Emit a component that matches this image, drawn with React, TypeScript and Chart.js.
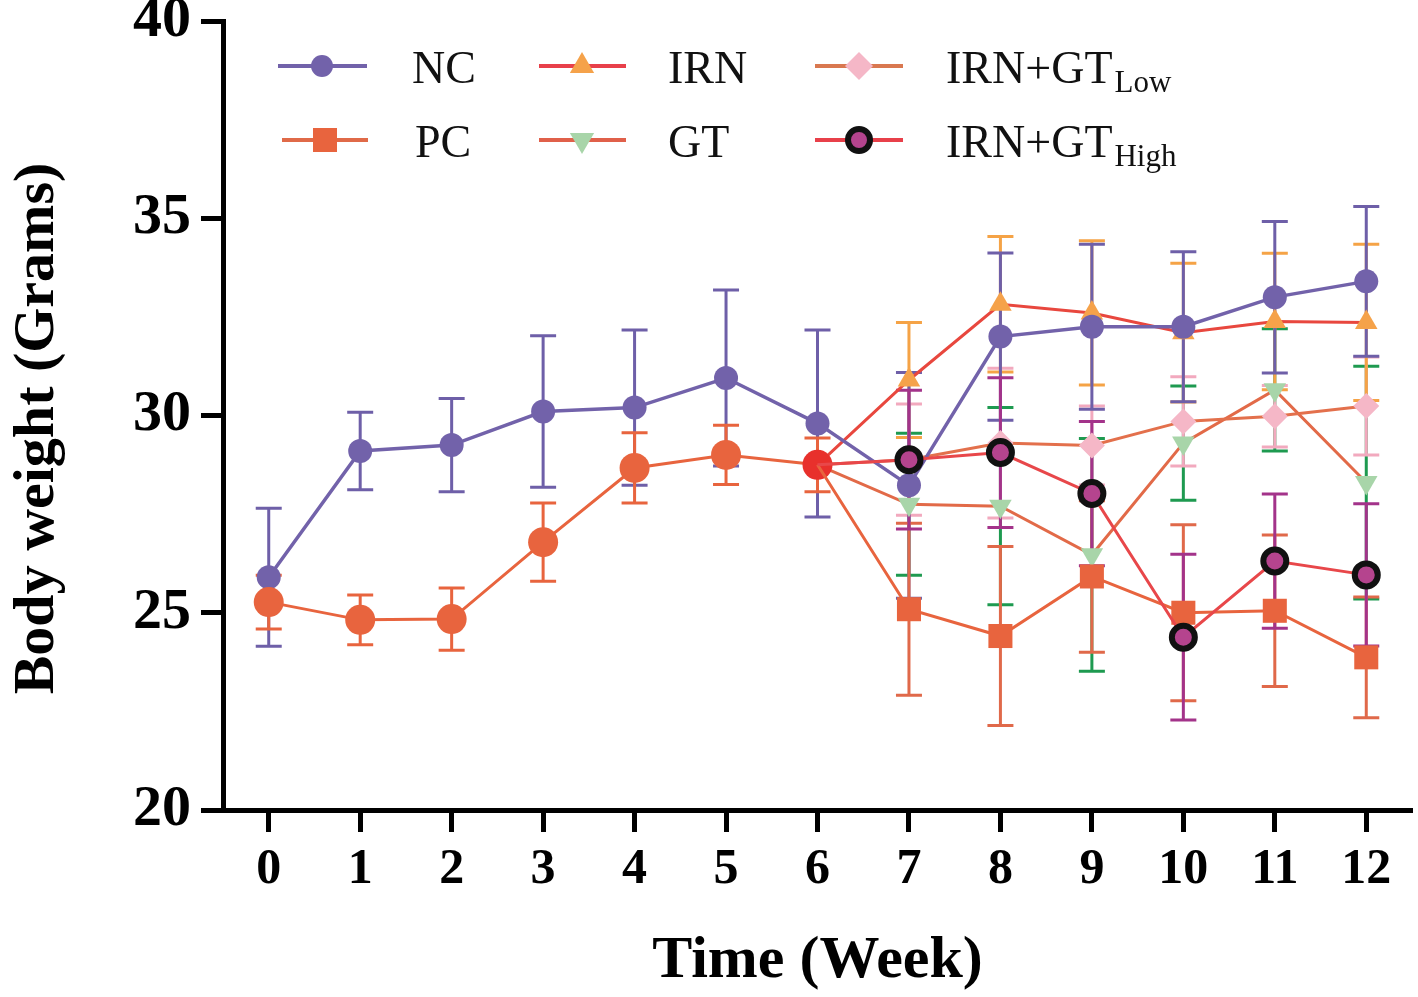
import React, { useEffect, useRef } from 'react';
import { Chart, registerables } from 'chart.js';
import { drawPoint } from 'chart.js/helpers';

Chart.register(...registerables);

const FONT = "'Liberation Serif', 'Times New Roman', serif";

// ---- data ----
const weeks = [0, 1, 2, 3, 4, 5, 6, 7, 8, 9, 10, 11, 12];
const yTicks = [20, 25, 30, 35, 40];

const ncMean = [25.9, 29.1, 29.25, 30.1, 30.2, 30.95, 29.8, 28.23, 32.0, 32.25, 32.25, 33.0, 33.4];
const ncSd = [1.75, 0.98, 1.18, 1.92, 1.97, 2.23, 2.37, 2.86, 2.12, 2.09, 1.9, 1.92, 1.9];

const preWeeks = [0, 1, 2, 3, 4, 5, 6];
const preMean = [25.27, 24.82, 24.84, 26.79, 28.67, 29.0, 28.75];
const preSd = [0.68, 0.63, 0.79, 0.99, 0.89, 0.75, 0.68];

const treatWeeks = [6, 7, 8, 9, 10, 11, 12];
const pcMean = [28.75, 25.09, 24.41, 25.92, 25.0, 25.05, 23.87];
const pcSd = [0, 2.18, 2.27, 1.92, 2.23, 1.92, 1.53];
const irnMean = [28.75, 30.9, 32.82, 32.6, 32.1, 32.38, 32.36];
const irnSd = [0, 1.46, 1.72, 1.83, 1.76, 1.73, 1.98];
const gtMean = [28.75, 27.75, 27.7, 26.47, 29.3, 30.65, 28.3];
const gtSd = [0, 1.8, 2.5, 2.95, 1.45, 1.55, 2.95];
const lowMean = [28.75, 28.88, 29.3, 29.24, 29.85, 29.98, 30.24];
const lowSd = [0, 1.41, 1.9, 1.0, 1.13, 0.78, 1.24];
const highMean = [28.75, 28.88, 29.06, 28.02, 24.38, 26.31, 25.96];
const highSd = [0, 1.76, 1.9, 1.83, 2.1, 1.7, 1.8];

const yTitle = 'Body weight (Grams)';
const xTitle = 'Time (Week)';

const pts = (xs: number[], ys: number[]) => xs.map((x, i) => ({ x, y: ys[i] }));
const treatRadius = (r: number) => treatWeeks.map((w) => (w === 6 ? 0 : r));

const errorBarPlugin = {
  id: 'errorBars',
  beforeDatasetsDraw(chart: any) {
    const ctx = chart.ctx;
    const ys = chart.scales.y;
    const n = chart.data.datasets.length;
    for (let i = n - 1; i >= 0; i--) {
      const ds: any = chart.data.datasets[i];
      if (!ds.errors) continue;
      const meta = chart.getDatasetMeta(i);
      ctx.save();
      ctx.strokeStyle = ds.errorColor;
      ctx.lineWidth = 3;
      meta.data.forEach((el: any, j: number) => {
        const sd = ds.errors[j];
        if (!sd) return;
        const v = ds.data[j].y;
        const x = el.x;
        const top = ys.getPixelForValue(v + sd);
        const bot = ys.getPixelForValue(v - sd);
        ctx.beginPath();
        ctx.moveTo(x, top);
        ctx.lineTo(x, bot);
        ctx.moveTo(x - 13, top);
        ctx.lineTo(x + 13, top);
        ctx.moveTo(x - 13, bot);
        ctx.lineTo(x + 13, bot);
        ctx.stroke();
      });
      ctx.restore();
    }
  },
};

const yTitlePlugin = {
  id: 'yTitle',
  afterDraw(chart: any) {
    const ctx = chart.ctx;
    const area = chart.chartArea;
    ctx.save();
    ctx.translate(38, (area.top + area.bottom) / 2 + 13);
    ctx.rotate(-Math.PI / 2);
    ctx.font = `bold 58px ${FONT}`;
    ctx.fillStyle = '#000';
    ctx.textAlign = 'center';
    ctx.textBaseline = 'middle';
    ctx.fillText(yTitle, 0, 0);
    ctx.restore();
  },
};

const legendItems = [
  { label: 'NC', sub: '', x1: 278, x2: 367, mx: 322, y: 66, tx: 412, line: '#7262AA', style: 'circle', r: 11, rot: 0, fill: '#7262AA', border: '#7262AA', bw: 0 },
  { label: 'PC', sub: '', x1: 282, x2: 368, mx: 325, y: 140, tx: 415, line: '#E06A48', style: 'rect', r: 17, rot: 0, fill: '#E8643E', border: '#E8643E', bw: 0 },
  { label: 'IRN', sub: '', x1: 539, x2: 626, mx: 582, y: 66, tx: 668, line: '#E8404A', style: 'triangle', r: 14, rot: 0, fill: '#F5A24A', border: '#F5A24A', bw: 0 },
  { label: 'GT', sub: '', x1: 539, x2: 626, mx: 582, y: 140, tx: 668, line: '#E0604A', style: 'triangle', r: 14, rot: 180, fill: '#A8D5A9', border: '#A8D5A9', bw: 0 },
  { label: 'IRN+GT', sub: 'Low', x1: 815, x2: 903, mx: 859, y: 66, tx: 946, line: '#D97850', style: 'rectRot', r: 14, rot: 0, fill: '#F5B7C7', border: '#F5B7C7', bw: 0 },
  { label: 'IRN+GT', sub: 'High', x1: 815, x2: 903, mx: 859, y: 140, tx: 946, line: '#E8404A', style: 'circle', r: 11, rot: 0, fill: '#B5448E', border: '#111111', bw: 6 },
];

const legendPlugin = {
  id: 'customLegend',
  afterDraw(chart: any) {
    const ctx = chart.ctx;
    ctx.save();
    legendItems.forEach((it) => {
      ctx.strokeStyle = it.line;
      ctx.lineWidth = 4;
      ctx.beginPath();
      ctx.moveTo(it.x1, it.y);
      ctx.lineTo(it.x2, it.y);
      ctx.stroke();
      ctx.fillStyle = it.fill;
      ctx.strokeStyle = it.border;
      ctx.lineWidth = it.bw;
      drawPoint(ctx, { pointStyle: it.style as any, radius: it.r, rotation: it.rot, borderWidth: it.bw }, it.mx, it.y);
      ctx.fillStyle = '#111111';
      ctx.textAlign = 'left';
      ctx.textBaseline = 'alphabetic';
      ctx.font = `46px ${FONT}`;
      const by = it.y + 17;
      ctx.fillText(it.label, it.tx, by);
      if (it.sub) {
        const w = ctx.measureText(it.label).width;
        ctx.font = `31px ${FONT}`;
        ctx.fillText(it.sub, it.tx + w + 2, by + 9);
      }
    });
    ctx.restore();
  },
};

export default function App() {
  const ref = useRef<HTMLCanvasElement>(null);
  useEffect(() => {
    document.body.style.margin = '0';
    const canvas = ref.current!;
    const chart = new Chart(canvas, {
      type: 'line',
      data: {
        datasets: [
          {
            label: 'IRN+GT High',
            data: pts(treatWeeks, highMean),
            errors: highSd,
            errorColor: '#A3338A',
            borderColor: '#E8474A',
            borderWidth: 3,
            pointStyle: 'circle',
            pointRadius: treatRadius(11.5),
            pointBackgroundColor: '#B5448E',
            pointBorderColor: '#111111',
            pointBorderWidth: 6,
            order: 0,
          } as any,
          {
            label: 'PC',
            data: pts(treatWeeks, pcMean),
            errors: pcSd,
            errorColor: '#E0694A',
            borderColor: '#E8643E',
            borderWidth: 3,
            pointStyle: 'rect',
            pointRadius: treatRadius(17),
            pointBackgroundColor: '#E8643E',
            pointBorderWidth: 0,
            order: 1,
          },
          {
            label: 'Pre',
            data: pts(preWeeks, preMean),
            errors: preSd,
            errorColor: '#E8643E',
            borderColor: '#E8643E',
            borderWidth: 3,
            pointStyle: 'circle',
            pointRadius: 15,
            pointBackgroundColor: preWeeks.map((w) => (w === 6 ? '#E8302C' : '#E8643E')),
            pointBorderWidth: 0,
            order: 2,
          },
          {
            label: 'NC',
            data: pts(weeks, ncMean),
            errors: ncSd,
            errorColor: '#6E5FA8',
            borderColor: '#7262AA',
            borderWidth: 3.5,
            pointStyle: 'circle',
            pointRadius: 12,
            pointBackgroundColor: '#7262AA',
            pointBorderWidth: 0,
            order: 3,
          },
          {
            label: 'IRN',
            data: pts(treatWeeks, irnMean),
            errors: irnSd,
            errorColor: '#F5A346',
            borderColor: '#E8473E',
            borderWidth: 3,
            pointStyle: 'triangle',
            pointRadius: treatRadius(13),
            pointBackgroundColor: '#F5A24A',
            pointBorderWidth: 0,
            order: 4,
          },
          {
            label: 'IRN+GT Low',
            data: pts(treatWeeks, lowMean),
            errors: lowSd,
            errorColor: '#F2A9BE',
            borderColor: '#E3704C',
            borderWidth: 3,
            pointStyle: 'rectRot',
            pointRadius: treatRadius(13),
            pointBackgroundColor: '#F5B7C7',
            pointBorderWidth: 0,
            order: 5,
          },
          {
            label: 'GT',
            data: pts(treatWeeks, gtMean),
            errors: gtSd,
            errorColor: '#1E9A50',
            borderColor: '#E26A48',
            borderWidth: 3,
            pointStyle: 'triangle',
            pointRotation: 180,
            pointRadius: treatRadius(13),
            pointBackgroundColor: '#A8D5A9',
            pointBorderWidth: 0,
            order: 6,
          },
        ] as any,
      },
      options: {
        animation: false,
        responsive: false,
        devicePixelRatio: 1,
        layout: { autoPadding: false, padding: { left: 0, right: 6, top: 21, bottom: 0 } },
        plugins: { legend: { display: false }, tooltip: { enabled: false } },
        scales: {
          x: {
            type: 'linear',
            min: -0.5,
            max: 12.5,
            afterBuildTicks: (axis: any) => {
              axis.ticks = weeks.map((v) => ({ value: v }));
            },
            afterFit: (s: any) => {
              s.height = 187;
              s.paddingLeft = 0;
              s.paddingRight = 0;
            },
            border: { display: true, color: '#000', width: 5 },
            grid: { drawOnChartArea: false, drawTicks: true, tickLength: 22, tickWidth: 5, color: '#000' },
            ticks: {
              font: { family: FONT, size: 50, weight: 'bold' },
              color: '#000',
              padding: 8,
              maxRotation: 0,
              autoSkip: false,
            },
            title: {
              display: true,
              text: xTitle,
              color: '#000',
              font: { family: FONT, size: 60, weight: 'bold' },
              padding: { top: 0, bottom: 0 },
            },
          },
          y: {
            type: 'linear',
            min: 20,
            max: 40,
            afterBuildTicks: (axis: any) => {
              axis.ticks = yTicks.map((v) => ({ value: v }));
            },
            afterFit: (s: any) => {
              s.width = 223;
              s.paddingTop = 0;
              s.paddingBottom = 0;
            },
            border: { display: true, color: '#000', width: 5 },
            grid: { drawOnChartArea: false, drawTicks: true, tickLength: 22, tickWidth: 5, color: '#000' },
            ticks: {
              font: { family: FONT, size: 58, weight: 'bold' },
              color: '#000',
              padding: 10,
            },
            title: { display: false },
          },
        },
      } as any,
      plugins: [errorBarPlugin, legendPlugin, yTitlePlugin],
    });
    return () => chart.destroy();
  }, []);
  return <canvas ref={ref} width={1418} height={997} style={{ display: 'block' }} />;
}
